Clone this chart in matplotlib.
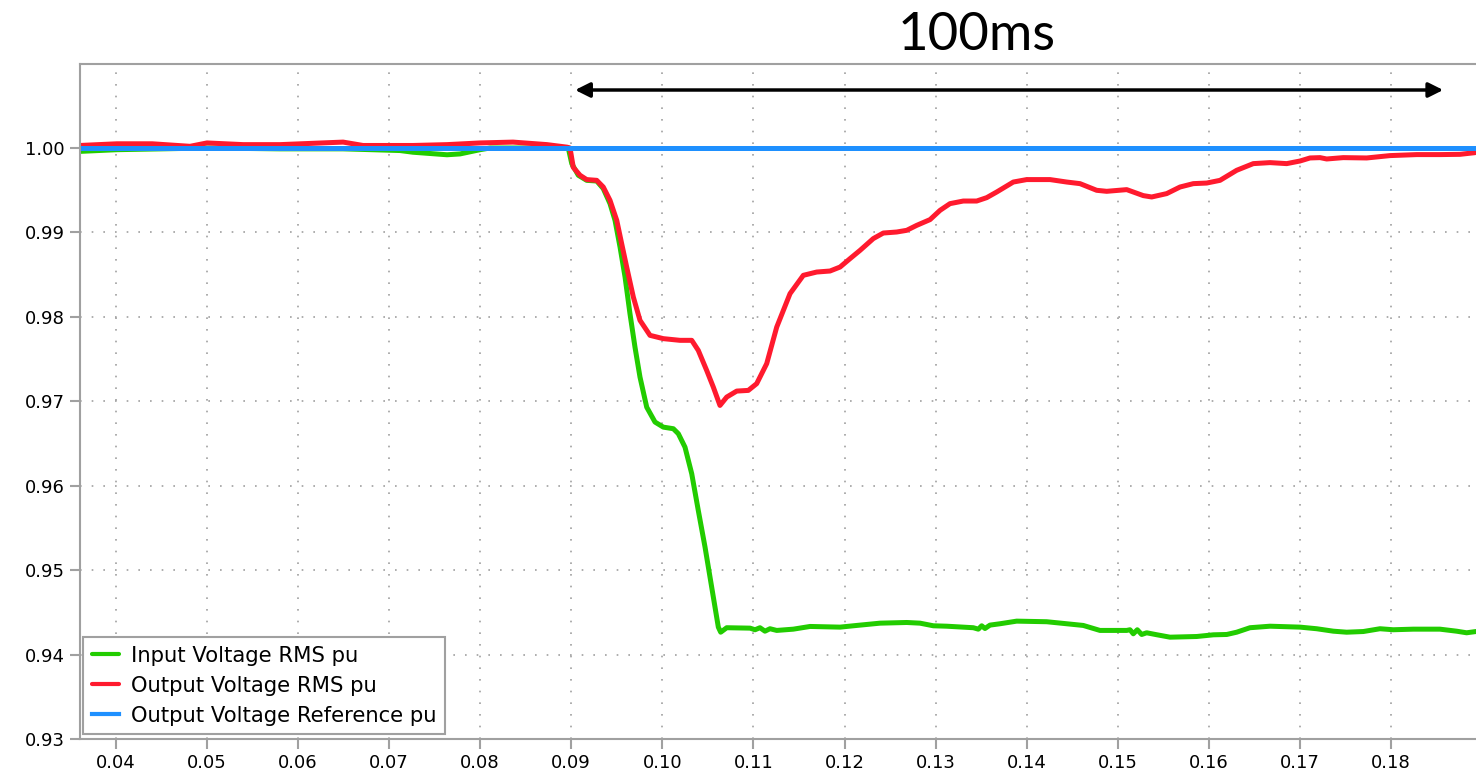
import matplotlib
matplotlib.use("Agg")
import matplotlib.pyplot as plt
import numpy as np

# ---- data (time in s, values in pu) ----
input_t = [0.03608, 0.04014, 0.05002, 0.05804, 0.06496, 0.07121, 0.07263, 0.07637, 0.07780, 0.07999, 0.08109, 0.08768,
           0.08968, 0.09006, 0.09078, 0.09170, 0.09280, 0.09352, 0.09426, 0.09481, 0.09536, 0.09591, 0.09645, 0.09700,
           0.09755, 0.09829, 0.09920, 0.10011, 0.10121, 0.10176, 0.10249, 0.10323, 0.10395, 0.10469, 0.10542, 0.10615,
           0.10641, 0.10707, 0.10963, 0.11018, 0.11072, 0.11127, 0.11182, 0.11256, 0.11438, 0.11622, 0.11951, 0.12134,
           0.12390, 0.12683, 0.12829, 0.12975, 0.13122, 0.13414, 0.13469, 0.13506, 0.13542, 0.13597, 0.13707, 0.13890,
           0.14219, 0.14439, 0.14621, 0.14804, 0.15098, 0.15134, 0.15170, 0.15214, 0.15262, 0.15317, 0.15427, 0.15573,
           0.15866, 0.16049, 0.16196, 0.16305, 0.16451, 0.16671, 0.17000, 0.17183, 0.17366, 0.17512, 0.17695, 0.17878,
           0.18024, 0.18244, 0.18536, 0.18719, 0.18829, 0.18931]
input_v = [0.9996, 0.9998, 1.0000, 0.9999, 0.9999, 0.9997, 0.9995, 0.9992, 0.9993, 0.9998, 1.0000, 1.0000,
           1.0000, 0.99815, 0.99677, 0.99617, 0.99609, 0.99519, 0.99341, 0.99143, 0.98827, 0.98472, 0.98038, 0.97642,
           0.97287, 0.9693, 0.96754, 0.96694, 0.96675, 0.96616, 0.96457, 0.96142, 0.95707, 0.95273, 0.94799, 0.94325,
           0.94265, 0.94318, 0.94313, 0.94294, 0.94318, 0.94277, 0.94306, 0.94286, 0.94301, 0.94333, 0.94325, 0.94345,
           0.94372, 0.94380, 0.94372, 0.94341, 0.94336, 0.94318, 0.94301, 0.94341, 0.94309, 0.94349, 0.94365, 0.94396,
           0.94389, 0.94365, 0.94345, 0.94286, 0.94286, 0.94294, 0.94246, 0.94294, 0.94238, 0.94258, 0.94235, 0.94206,
           0.94214, 0.94234, 0.94238, 0.94265, 0.94318, 0.94336, 0.94325, 0.94306, 0.94277, 0.94265, 0.94273, 0.94306,
           0.94294, 0.94301, 0.94301, 0.94277, 0.94258, 0.94273]

output_t = [0.03608, 0.04014, 0.04400, 0.04816, 0.05002, 0.05400, 0.05804, 0.06496, 0.06715, 0.07263, 0.07637, 0.07999,
            0.08361, 0.08735, 0.08954, 0.08987, 0.09023, 0.09097, 0.09170, 0.09280, 0.09352, 0.09426, 0.09500, 0.09554,
            0.09609, 0.09682, 0.09755, 0.09865, 0.10011, 0.10194, 0.10323, 0.10395, 0.10487, 0.10560, 0.10633, 0.10707,
            0.10817, 0.10944, 0.11036, 0.11146, 0.11256, 0.11402, 0.11548, 0.11695, 0.11841, 0.11951, 0.12061, 0.12171,
            0.12316, 0.12426, 0.12573, 0.12683, 0.12793, 0.12939, 0.13049, 0.13158, 0.13304, 0.13451, 0.13561, 0.13671,
            0.13853, 0.14000, 0.14256, 0.14439, 0.14585, 0.14768, 0.14878, 0.15098, 0.15170, 0.15280, 0.15372, 0.15537,
            0.15683, 0.15829, 0.15976, 0.16122, 0.16305, 0.16487, 0.16671, 0.16854, 0.17000, 0.17110, 0.17220, 0.17293,
            0.17475, 0.17732, 0.17988, 0.18281, 0.18536, 0.18756, 0.18921]
output_v = [1.0003, 1.0005, 1.0005, 1.0002, 1.0006, 1.0004, 1.0004, 1.0007, 1.0003, 1.0003, 1.0004, 1.0006,
            1.0007, 1.0004, 1.0001, 1.0000, 0.9977, 0.99677, 0.99626, 0.99617, 0.99538, 0.9938, 0.99143, 0.98867,
            0.9859, 0.98235, 0.97959, 0.97781, 0.97742, 0.97722, 0.97722, 0.97603, 0.97366, 0.97168, 0.96951, 0.9705,
            0.97121, 0.97129, 0.97209, 0.97446, 0.97879, 0.98275, 0.98492, 0.98531, 0.98543, 0.9859, 0.9869, 0.98788,
            0.98927, 0.98993, 0.99005, 0.99025, 0.99084, 0.99152, 0.99262, 0.99341, 0.99372, 0.99372, 0.99412, 0.99479,
            0.99597, 0.99626, 0.99626, 0.99597, 0.99578, 0.99499, 0.99487, 0.99507, 0.99479, 0.99436, 0.9942, 0.9946,
            0.99538, 0.99578, 0.99585, 0.99617, 0.99736, 0.99815, 0.99827, 0.99815, 0.99846, 0.99882, 0.99886, 0.9987,
            0.99886, 0.99882, 0.9991, 0.99922, 0.99922, 0.99925, 0.99945]

ref_t = [0.0360, 0.1895]
ref_v = [1.0, 1.0]

labels = ["Input Voltage RMS pu", "Output Voltage RMS pu", "Output Voltage Reference pu"]
x_ticks = [0.04, 0.05, 0.06, 0.07, 0.08, 0.09, 0.10, 0.11, 0.12, 0.13, 0.14, 0.15, 0.16, 0.17, 0.18]
y_ticks = [0.93, 0.94, 0.95, 0.96, 0.97, 0.98, 0.99, 1.00]
span_label = "100ms"
span_start, span_end, span_level = 0.09043, 0.18572, 1.00687

# ---- figure ----
fig = plt.figure(figsize=(14.76, 7.71), dpi=100)
ax = fig.add_axes([80/1476, 1 - 739/771, 1396/1476, 675/771])

c_green = "#22cc00"
c_red = "#ff1a2e"
c_blue = "#1e90ff"

ax.plot(input_t, input_v, color=c_green, lw=3.6, label=labels[0], solid_capstyle="round", solid_joinstyle="round")
ax.plot(output_t, output_v, color=c_red, lw=3.6, label=labels[1], solid_capstyle="round", solid_joinstyle="round")
ax.plot(ref_t, ref_v, color=c_blue, lw=3.6, label=labels[2])

ax.set_xlim(0.03608, 0.18932)
ax.set_ylim(0.93, 1.00995)
ax.set_xticks(x_ticks)
ax.set_yticks(y_ticks)
ax.set_xticklabels([f"{v:.2f}" for v in x_ticks])
ax.set_yticklabels([f"{v:.2f}" for v in y_ticks])

ax.grid(True, color="#a0a0a0", linestyle=(0, (1, 6)), linewidth=1.2)
ax.set_axisbelow(True)

for side in ["left", "bottom", "top"]:
    ax.spines[side].set_color("#a0a0a0")
    ax.spines[side].set_linewidth(1.5)
ax.spines["right"].set_visible(False)
ax.tick_params(axis="both", direction="out", length=7, width=1.5, color="#a0a0a0",
               labelsize=13, labelcolor="black", pad=4)

leg = ax.legend(loc="lower left", bbox_to_anchor=(0.0024, 0.007), borderaxespad=0,
                fontsize=15.2, labelspacing=0.48, handlelength=1.3, handletextpad=0.55,
                borderpad=0.4, fancybox=False, framealpha=1, edgecolor="#a0a0a0")
leg.get_frame().set_linewidth(1.5)
for h in leg.get_lines():
    h.set_linewidth(3.0)

ax.annotate("", xy=(span_start, span_level), xytext=(span_end, span_level),
            arrowprops=dict(arrowstyle="<|-|>", color="black", lw=2.5, mutation_scale=22,
                            shrinkA=0, shrinkB=0))
fig.text(977/1476, 1 - 36/771, span_label, ha="center", va="center", fontsize=38, family="Lato")

fig.savefig("out.png", dpi=100)
